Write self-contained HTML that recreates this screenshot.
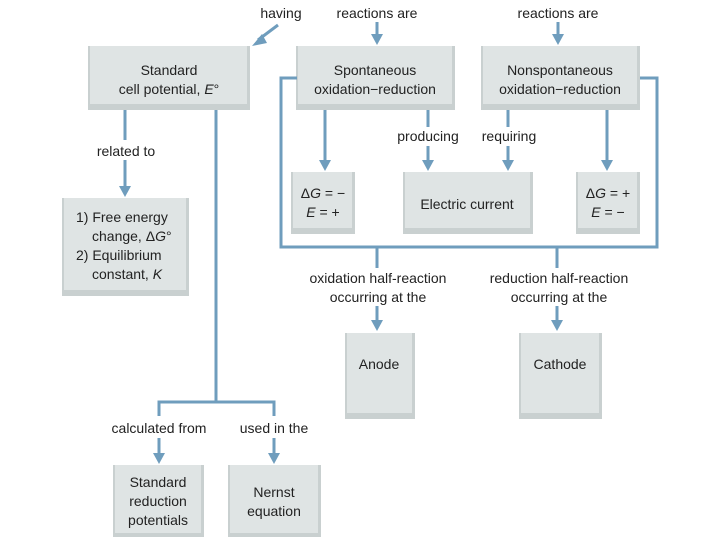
<!DOCTYPE html>
<html><head><meta charset="utf-8"><style>
html,body{margin:0;padding:0;background:#fff;}
svg{display:block;}
text{font-family:"Liberation Sans",sans-serif;font-size:14px;fill:#222;text-anchor:middle;}
.l{stroke:#6f9dbd;stroke-width:3;fill:none;}
.i{font-style:italic;}
</style></head><body>
<svg width="720" height="540" viewBox="0 0 720 540" xmlns="http://www.w3.org/2000/svg">
<defs>
<marker id="a" markerWidth="6" markerHeight="6" refX="3" refY="5" orient="auto" markerUnits="userSpaceOnUse" viewBox="0 0 6 6">
</marker>
<symbol id="b"></symbol>
</defs>
<g id="boxes">
<!-- box function emulated with rects -->
<g>
<rect x="88" y="46" width="162" height="64" fill="#c9d0d0"/><rect x="90" y="46" width="157" height="58" fill="#dfe4e4"/>
<rect x="296" y="46" width="159" height="64" fill="#c9d0d0"/><rect x="298" y="46" width="154" height="58" fill="#dfe4e4"/>
<rect x="481" y="46" width="159" height="64" fill="#c9d0d0"/><rect x="483" y="46" width="154" height="58" fill="#dfe4e4"/>
<rect x="291" y="172" width="64" height="62" fill="#c9d0d0"/><rect x="293" y="172" width="59" height="56" fill="#dfe4e4"/>
<rect x="403" y="172" width="130" height="62" fill="#c9d0d0"/><rect x="405" y="172" width="125" height="56" fill="#dfe4e4"/>
<rect x="576" y="172" width="64" height="62" fill="#c9d0d0"/><rect x="578" y="172" width="59" height="56" fill="#dfe4e4"/>
<rect x="62" y="198" width="127" height="98" fill="#c9d0d0"/><rect x="64" y="198" width="122" height="92" fill="#dfe4e4"/>
<rect x="345" y="333" width="70" height="86" fill="#c9d0d0"/><rect x="347" y="333" width="65" height="80" fill="#dfe4e4"/>
<rect x="519" y="333" width="83" height="86" fill="#c9d0d0"/><rect x="521" y="333" width="78" height="80" fill="#dfe4e4"/>
<rect x="113" y="465" width="91" height="72" fill="#c9d0d0"/><rect x="115" y="465" width="86" height="68" fill="#dfe4e4"/>
<rect x="228" y="465" width="93" height="72" fill="#c9d0d0"/><rect x="230" y="465" width="88" height="68" fill="#dfe4e4"/>
</g>
</g>
<g class="l">
<path d="M297 78H281V247H657V78H640"/>
<path d="M377 247V268M557 247V268"/>
<path d="M377 306V322M557 306V322"/>
<path d="M377 22V36M558 22V36"/>
<path d="M325 110V162M607 110V162"/>
<path d="M428 110V127M428 146V162M508 110V127M508 146V162"/>
<path d="M125 110V140M125 160V188"/>
<path d="M216 110V402M159 416V402H274V416"/>
<path d="M159 438V455M274 438V455"/>
<path d="M278 25L258 40"/>
</g>
<g fill="#6f9dbd">
<path d="M371 34H383L377 45Z"/><path d="M552 34H564L558 45Z"/>
<path d="M319 160H331L325 171Z"/><path d="M601 160H613L607 171Z"/>
<path d="M422 160H434L428 171Z"/><path d="M502 160H514L508 171Z"/>
<path d="M119 186H131L125 197Z"/>
<path d="M371 320H383L377 331Z"/><path d="M551 320H563L557 331Z"/>
<path d="M153 453H165L159 464Z"/><path d="M268 453H280L274 464Z"/>
<path d="M252 46L262 34L267 43Z"/>
</g>
<text x="281" y="18">having</text>
<text x="377" y="18">reactions are</text>
<text x="558" y="18">reactions are</text>
<text x="169" y="75">Standard</text>
<text x="169" y="94">cell potential, <tspan class="i">E</tspan>°</text>
<text x="375" y="75">Spontaneous</text>
<text x="375" y="94">oxidation−reduction</text>
<text x="560" y="75">Nonspontaneous</text>
<text x="560" y="94">oxidation−reduction</text>
<text x="428" y="141">producing</text>
<text x="509" y="141">requiring</text>
<text x="126" y="156">related to</text>
<text x="323" y="198">Δ<tspan class="i">G</tspan> = −</text>
<text x="323" y="217"><tspan class="i">E</tspan> = +</text>
<text x="467" y="209">Electric current</text>
<text x="608" y="198">Δ<tspan class="i">G</tspan> = +</text>
<text x="608" y="217"><tspan class="i">E</tspan> = −</text>
<g style="text-anchor:start">
<text x="76" y="222" style="text-anchor:start">1) Free energy</text>
<text x="92" y="241" style="text-anchor:start">change, Δ<tspan class="i">G</tspan>°</text>
<text x="76" y="260" style="text-anchor:start">2) Equilibrium</text>
<text x="92" y="279" style="text-anchor:start">constant, <tspan class="i">K</tspan></text>
</g>
<text x="378" y="283">oxidation half-reaction</text>
<text x="378" y="302">occurring at the</text>
<text x="559" y="283">reduction half-reaction</text>
<text x="559" y="302">occurring at the</text>
<text x="379" y="369">Anode</text>
<text x="560" y="369">Cathode</text>
<text x="159" y="433">calculated from</text>
<text x="274" y="433">used in the</text>
<text x="158" y="487">Standard</text>
<text x="158" y="506">reduction</text>
<text x="158" y="525">potentials</text>
<text x="274" y="497">Nernst</text>
<text x="274" y="516">equation</text>
</svg>
</body></html>
